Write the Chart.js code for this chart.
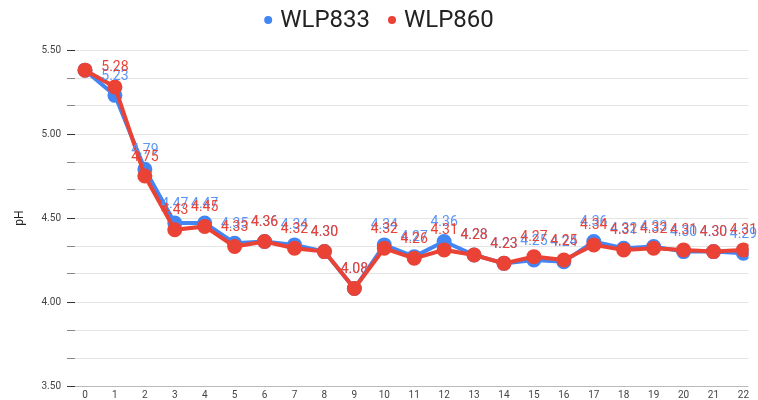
<html>
<head>
    <script src="https://cdn.jsdelivr.net/npm/chart.js@4.4.0/dist/chart.umd.min.js"></script>
    <style>
        body { margin: 0; background: #fff; }
        #wrap { width: 758px; height: 400px; }
    </style>
</head>
<body>
<div id="wrap"><canvas id="c"></canvas></div>
<script>
    // days 0..22
    var days = [0,1,2,3,4,5,6,7,8,9,10,11,12,13,14,15,16,17,18,19,20,21,22];
    var wlp833 = [5.38,5.23,4.79,4.47,4.47,4.35,4.36,4.34,4.30,4.08,4.34,4.27,4.36,4.28,4.23,4.25,4.24,4.36,4.32,4.33,4.30,4.30,4.29];
    var wlp860 = [5.38,5.28,4.75,4.43,4.45,4.33,4.36,4.32,4.30,4.08,4.32,4.26,4.31,4.28,4.23,4.27,4.25,4.34,4.31,4.32,4.31,4.30,4.31];
    var yTicks = [3.5, 4.0, 4.5, 5.0, 5.5];

    var blue = '#4285F4';
    var red = '#EA4335';

    function isMajor(v) {
        for (var i = 0; i < yTicks.length; i++) {
            if (Math.abs(v - yTicks[i]) < 1e-6) return true;
        }
        return false;
    }

    // value labels over points
    var pointLabels = {
        id: 'pointLabels',
        afterDatasetsDraw: function(chart) {
            var ctx = chart.ctx;
            ctx.save();
            ctx.font = '14px Roboto';
            ctx.textAlign = 'center';
            ctx.textBaseline = 'middle';
            chart.data.datasets.forEach(function(ds, i) {
                var meta = chart.getDatasetMeta(i);
                meta.data.forEach(function(pt, j) {
                    if (j === 0) return;
                    ctx.fillStyle = ds.labelColor;
                    ctx.fillText(ds.data[j].y.toFixed(2), pt.x, pt.y - 19);
                });
            });
            ctx.restore();
        }
    };

    // simple legend row at the top, dots same size for both series
    var topLegend = {
        id: 'topLegend',
        afterDraw: function(chart) {
            var ctx = chart.ctx;
            var sets = chart.data.datasets;
            ctx.save();
            ctx.font = '24px Roboto';
            ctx.textBaseline = 'middle';
            var r = 4, gap = 8, between = 18;
            var widths = sets.map(function(ds) { return ctx.measureText(ds.label).width; });
            var total = 0;
            widths.forEach(function(w, i) { total += r * 2 + gap + w + (i ? between : 0); });
            var x = chart.width / 2 - total / 2;
            var y = 20;
            sets.forEach(function(ds, i) {
                if (i) x += between;
                ctx.fillStyle = ds.borderColor;
                ctx.beginPath();
                ctx.arc(x + r, y, r, 0, Math.PI * 2);
                ctx.fill();
                x += r * 2 + gap;
                ctx.fillStyle = '#222';
                ctx.fillText(ds.label, x, y + 1);
                x += widths[i];
            });
            ctx.restore();
        }
    };

    function toPoints(arr) {
        return arr.map(function(v, i) { return { x: days[i], y: v }; });
    }

    var ctx = document.getElementById('c').getContext('2d');
    var chart = new Chart(ctx, {
        type: 'line',
        data: {
            datasets: [{
                label: 'WLP833',
                data: toPoints(wlp833),
                borderColor: blue,
                backgroundColor: blue,
                labelColor: '#5b95f6',
                borderWidth: 4,
                pointRadius: 5.5,
                pointHoverRadius: 5.5,
                tension: 0,
                order: 1
            }, {
                label: 'WLP860',
                data: toPoints(wlp860),
                borderColor: red,
                backgroundColor: red,
                labelColor: red,
                borderWidth: 4,
                pointRadius: 5.5,
                pointHoverRadius: 5.5,
                tension: 0,
                order: 0
            }]
        },
        plugins: [pointLabels, topLegend],
        options: {
            responsive: true,
            maintainAspectRatio: false,
            animation: false,
            layout: { padding: { left: 4, right: 4, top: 50, bottom: 0 } },
            plugins: {
                tooltip: { enabled: false },
                legend: { display: false }
            },
            scales: {
                x: {
                    type: 'linear',
                    min: -0.334,
                    max: 22.17,
                    afterBuildTicks: function(scale) {
                        scale.ticks = days.map(function(d) { return { value: d }; });
                    },
                    afterFit: function(scale) { scale.height = 14; },
                    grid: { display: false, drawTicks: false },
                    border: { display: false },
                    ticks: {
                        color: '#444',
                        font: { family: 'Roboto', size: 10 },
                        padding: 3,
                        maxRotation: 0,
                        autoSkip: false
                    }
                },
                y: {
                    min: 3.5,
                    max: 5.5,
                    afterBuildTicks: function(scale) {
                        var t = [];
                        for (var k = 0; k <= 12; k++) t.push({ value: 3.5 + k / 6 });
                        scale.ticks = t;
                    },
                    afterFit: function(scale) { scale.width = 71; },
                    title: {
                        display: true,
                        text: 'pH',
                        color: '#222',
                        font: { family: 'Roboto', size: 12 },
                        padding: { top: 9, bottom: 0 }
                    },
                    border: { display: false },
                    grid: {
                        color: function(c) {
                            return c.tick && c.tick.value === 3.5 ? '#bbb' : '#e4e4e4';
                        },
                        lineWidth: 1,
                        tickLength: 8,
                        tickColor: function(c) {
                            return c.tick && isMajor(c.tick.value) ? '#333' : '#888';
                        }
                    },
                    ticks: {
                        color: '#444',
                        font: { family: 'Roboto', size: 10 },
                        padding: 6,
                        callback: function(v) {
                            return isMajor(v) ? v.toFixed(2) : '';
                        }
                    }
                }
            }
        }
    });
</script>
</body>
</html>
